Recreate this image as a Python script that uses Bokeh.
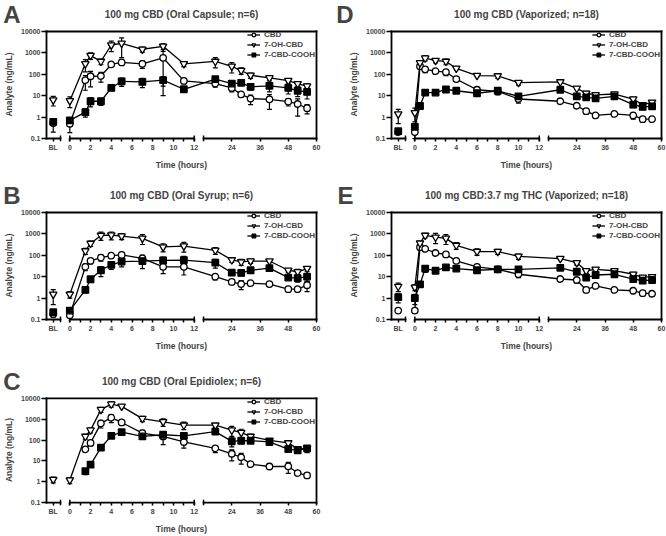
import math
from bokeh.plotting import figure
from bokeh.models import (FixedTicker, Range1d, Whisker, TeeHead,
                          ColumnDataSource, Legend, LegendItem, Label)
from bokeh.layouts import column, row
from bokeh.embed import file_html
from bokeh.resources import INLINE

NAN = float("nan")

# ---------------- data (first value of every series = baseline "BL") ----------------
ORAL_HOURS = [0, 1.5, 2, 3, 4, 5, 7, 9, 11, 17, 24, 28, 32, 40, 48, 52, 56]
VAPE_HOURS = [0, 0.5, 1, 2, 3, 4, 6, 8, 10, 17, 24, 28, 32, 40, 48, 52, 56]
SERIES_NAMES = ["CBD", "7-OH-CBD", "7-CBD-COOH"]
Y_TICKS = [0.1, 1.0, 10.0, 100.0, 1000.0, 10000.0]
Y_TICK_LABELS = ["0.1", "1", "10", "100", "1000", "10000"]
X_MAJOR_HOURS = [0, 2, 4, 6, 8, 10, 12, 24, 36, 48, 60]
X_MINOR_HOURS = [1, 3, 5, 7, 9, 11]

# A: 100 mg CBD (Oral Capsule; n=6)
A_CBD = [0.53, 0.49, 53, 81, 83, 288, 357, 310, 590, 49, 37, 23, 11.5, 7.3, 6.8, 5.3, 4.1, 2.6]
A_CBD_ERR = [0.33, 0.3, 35, 55, 40, 60, 80, 120, 580, 12, 12, 8, 3, 3.5, 4.5, 2, 3, 1.2]
A_OH = [6.3, 5.8, 310, 750, 400, 2340, 2800, 1480, 2040, 310, 400, 235, 150, 90, 68, 51, 36, 28]
A_OH_ERR = [3, 3, 180, 250, 120, 1200, 2200, 400, 600, 80, 200, 120, 50, 25, 15, 12, 10, 8]
A_COOH = [0.6, 0.7, 1.7, 5.5, 5.5, 23, 47, 44, 53, 20, 59, 37, 40, 26, 29, 23, 17, 15]
A_COOH_ERR = [0.2, 0.2, 0.7, 2.5, 2, 4, 20, 20, 25, 3, 15, 10, 8, 8, 14, 11, 8, 8]

# B: 100 mg CBD (Oral Syrup; n=6)
B_CBD = [0.18, 0.16, 29, 55, 78, 96, 104, 72, 29, 29, 10, 5.7, 4.5, 5.0, 4.5, 2.6, 2.6, 4.0]
B_CBD_ERR = [0.05, 0.03, 10, 15, 25, 25, 25, 30, 15, 17, 3, 1, 2, 1, 1, 0.5, 0.6, 2]
B_OH = [1.5, 1.5, 160, 360, 850, 880, 790, 620, 245, 270, 170, 61, 49, 54, 54, 20, 17, 24]
B_OH_ERR = [1.0, 0.5, 50, 100, 350, 350, 250, 300, 100, 130, 60, 15, 15, 12, 6, 4, 5, 6]
B_COOH = [0.22, 0.26, 2.4, 7.6, 20, 36, 51, 54, 58, 60, 45, 15.5, 15, 20, 25, 9.1, 8.5, 10]
B_COOH_ERR = [0.06, 0.1, 0.6, 2, 10, 14, 22, 30, 25, 30, 20, 3, 4, 4, 4, 1.5, 3, 4]

# C: 100 mg CBD (Oral Epidiolex; n=6)
C_CBD = [NAN, NAN, 36, 73, 630, 1190, 700, 215, 150, 81, 40, 22, 15, 7, 5.4, 5.5, 2.6, 2.0]
C_CBD_ERR = [NAN, NAN, 8, 20, 250, 500, 200, 80, 90, 40, 15, 12, 8, 1, 0.8, 3, 0.5, 0.4]
C_OH = [1.28, 1.2, 150, 300, 2900, 5300, 4150, 1070, 750, 520, 520, 300, 230, 150, 97, 73, 38, 40]
C_OH_ERR = [0.4, 0.4, 40, 80, 800, 1500, 600, 300, 300, 200, 100, 150, 100, 40, 20, 20, 10, 15]
C_COOH = [NAN, NAN, 3.2, 6.6, 43, 160, 240, 150, 180, 160, 255, 87, 93, 93, 81, 37, 32, 40]
C_COOH_ERR = [NAN, NAN, 1, 1.5, 8, 20, 30, 40, 50, 50, 50, 40, 25, 20, 15, 8, 8, 12]

# D: 100 mg CBD (Vaporized; n=18)
D_CBD = [0.2, 0.2, 240, 170, 140, 127, 60, 19, 16, 7, 5.5, 3.4, 1.9, 1.2, 1.4, 1.2, 0.8, 0.8]
D_CBD_ERR = [0.05, 0.1, 60, 50, 30, 40, 10, 3, 5, 2.5, 1, 0.5, 0.5, 0.3, 0.2, 0.4, 0.2, 0.1]
D_OH = [1.4, 1.6, 345, 570, 440, 400, 190, 87, 84, 41, 44, 22, 13, 11, 12, 7, 3.8, 4.9]
D_OH_ERR = [0.9, 1.0, 80, 150, 100, 120, 30, 10, 20, 10, 5, 3, 3, 3, 2, 1.5, 1, 1]
D_COOH = [0.22, 0.35, 3.3, 14, 14, 19.5, 17, 13, 17, 9.3, 19, 9.3, 8.4, 7.5, 9.3, 3.8, 3.0, 3.2]
D_COOH_ERR = [0.05, 0.1, 0.5, 3, 2, 3, 2, 2, 3, 2, 3, 2, 2, 1.5, 1.5, 1, 0.7, 0.7]

# E: 100 mg CBD:3.7 mg THC (Vaporized; n=18)
E_CBD = [0.26, 0.26, 240, 200, 128, 110, 55, 29, 22, 13, 7.8, 7, 2.4, 3.7, 2.4, 2.2, 1.7, 1.6]
E_CBD_ERR = [0.05, 0.05, 60, 50, 30, 20, 8, 4, 4, 4, 1, 2, 0.3, 0.5, 0.3, 0.6, 0.3, 0.4]
E_OH = [3.5, 3.2, 370, 850, 700, 620, 290, 150, 150, 90, 70, 45, 19, 22, 19, 13, 9.3, 10]
E_OH_ERR = [1.5, 1, 80, 200, 350, 300, 100, 50, 40, 25, 8, 10, 5, 4, 3, 3, 1.5, 1]
E_COOH = [1.1, 1.0, 4.4, 24, 19, 27, 24, 20, 22, 22, 26, 17, 9, 12, 13, 7.8, 6.5, 7]
E_COOH_ERR = [0.5, 0.5, 0.8, 8, 3, 4, 3, 3, 4, 4, 4, 3, 2, 3, 2, 1.5, 1, 1.5]

# ---------------- styling / broken time axis ----------------
FONT = "Liberation Sans"
X_LEFT = -2.25       # display units (= hours inside the 0-12 h segment)
BL_POS = -1.6
BL_END = -0.9
LATE_START = 12.9
LATE_SCALE = 0.227
AXW = 1.8
DATA_W, DATA_H = 270, 107      # pixel size of the data rectangle
PAD, PAD_T, PADB = 2, 4, 3      # frame padding so that the frame lines are not clipped
HEADER_H = 27
LETTER_Y = HEADER_H - 13.45     # header coordinates, measured from its bottom
TITLE_Y = HEADER_H - 13.5


def disp(t):
    return t if t <= 12 else LATE_START + (t - 12) * LATE_SCALE


X_RIGHT = disp(60)
UPP = (X_RIGHT - X_LEFT) / DATA_W
DPP = 5.0 / DATA_H
Y_LO, Y_HI = 0.1, 10000.0

MARKERS = [
    dict(marker="circle", size=6.5, fill_color="white"),
    dict(marker="inverted_triangle", size=7.5, fill_color="white"),
    dict(marker="square", size=6.5, fill_color="black"),
]


def make_header(letter, title, width, mb_left):
    mb_right = width - mb_left - DATA_W - 2 * PAD
    h = figure(width=width, height=HEADER_H, x_range=Range1d(0, 1), y_range=Range1d(0, HEADER_H),
               output_backend="svg", toolbar_location=None, title_location=None,
               x_axis_location=None, y_axis_location="left",
               min_border_left=mb_left, min_border_right=mb_right,
               min_border_top=0, min_border_bottom=0)
    h.outline_line_color = None
    h.grid.visible = False
    # panel letter, drawn as the single tick label of the header's left axis
    la = h.yaxis[0]
    la.ticker = FixedTicker(ticks=[LETTER_Y])
    la.major_label_overrides = {LETTER_Y: letter}
    la.axis_line_color = None
    la.major_tick_line_color = None
    la.minor_tick_line_color = None
    la.major_tick_in = 0
    la.major_tick_out = 0
    la.major_label_text_font = FONT
    la.major_label_text_font_style = "bold"
    la.major_label_text_font_size = "24px"
    la.major_label_standoff = mb_left - 20
    h.add_layout(Label(x=0.5, y=TITLE_Y, text=title, text_font=FONT,
                       text_font_style="bold", text_font_size="10px",
                       text_align="center", text_baseline="middle"))
    return h


def make_plot(hours, series, width, height, mb_left, mb_bottom):
    p = figure(width=width, height=height, y_axis_type="log",
               x_range=Range1d(X_LEFT - PAD * UPP, X_RIGHT + PAD * UPP),
               y_range=Range1d(Y_LO * 10 ** (-PADB * DPP), Y_HI * 10 ** (PAD_T * DPP)),
               output_backend="svg", toolbar_location=None, title_location=None,
               min_border_left=mb_left, min_border_right=width - mb_left - DATA_W - 2 * PAD,
               min_border_top=0, min_border_bottom=mb_bottom)
    p.outline_line_color = None
    p.xgrid.visible = False
    p.ygrid.visible = False

    ya = p.yaxis[0]
    xa = p.xaxis[0]
    for ax in (ya, xa):
        ax.axis_line_color = None
        ax.major_tick_line_width = 1.5
        ax.minor_tick_line_width = 1.5
        ax.major_label_text_font = FONT
        ax.major_label_text_font_style = "bold"
        ax.major_label_text_font_size = "7px"
        ax.axis_label_text_font = FONT
        ax.axis_label_text_font_style = "bold"
        ax.axis_label_text_font_size = "8.5px"

    ya.ticker = FixedTicker(ticks=Y_TICKS)
    ya.major_label_overrides = dict(zip(Y_TICKS, Y_TICK_LABELS))
    ya.major_tick_in = PAD
    ya.major_tick_out = 3
    ya.major_label_standoff = 1
    ya.axis_label = "Analyte (ng/mL)"
    ya.axis_label_standoff = 4

    x_major = [BL_POS] + [float(disp(h)) for h in X_MAJOR_HOURS]
    x_labels = ["BL"] + [str(h) for h in X_MAJOR_HOURS]
    xa.ticker = FixedTicker(ticks=x_major, minor_ticks=[float(disp(h)) for h in X_MINOR_HOURS])
    xa.major_label_overrides = dict(zip(x_major, x_labels))
    xa.major_tick_in = PADB
    xa.major_tick_out = 0
    xa.minor_tick_in = PADB
    xa.minor_tick_out = 0
    xa.major_label_standoff = 2
    xa.axis_label = "Time (hours)"
    xa.axis_label_standoff = 6

    # frame: left, top and right lines + broken bottom axis line
    fx0 = [X_LEFT, X_LEFT, X_RIGHT, X_LEFT, 0.0, LATE_START]
    fy0 = [Y_LO, Y_HI, Y_LO, Y_LO, Y_LO, Y_LO]
    fx1 = [X_LEFT, X_RIGHT, X_RIGHT, BL_END, 12.0, X_RIGHT]
    fy1 = [Y_HI, Y_HI, Y_HI, Y_LO, Y_LO, Y_LO]
    p.segment(x0=fx0, y0=fy0, x1=fx1, y1=fy1, line_color="black", line_width=AXW,
              line_cap="square")
    caps = [BL_END, 0.0, 12.0, LATE_START]
    cap_lo = Y_LO * 10 ** (-3 * DPP)
    cap_hi = Y_LO * 10 ** (3 * DPP)
    p.segment(x0=caps, y0=[cap_lo] * 4, x1=caps, y1=[cap_hi] * 4,
              line_color="black", line_width=1.5)

    xs_all = [BL_POS] + [float(disp(h)) for h in hours]
    items = []
    for name, (vals, errs), mk in zip(SERIES_NAMES, series, MARKERS):
        line = p.line(x=xs_all[1:], y=vals[1:], line_color="black", line_width=1.3)
        up = [v + e if not math.isnan(v) else NAN for v, e in zip(vals, errs)]
        lo = [max(v - e, Y_LO) if not math.isnan(v) else NAN for v, e in zip(vals, errs)]
        src = ColumnDataSource(dict(x=xs_all, y=vals, upper=up, lower=lo))
        w = Whisker(base="x", upper="upper", lower="lower", source=src, dimension="height",
                    line_color="black", line_width=1.2, level="underlay",
                    upper_head=TeeHead(size=5, line_width=1.2, line_color="black"),
                    lower_head=TeeHead(size=5, line_width=1.2, line_color="black"))
        p.add_layout(w)
        sc = p.scatter(x="x", y="y", source=src, marker=mk["marker"], size=mk["size"],
                       fill_color=mk["fill_color"], line_color="black", line_width=1.3)
        items.append(LegendItem(label=name, renderers=[line, sc]))

    leg = Legend(items=items, location="top_right")
    leg.label_text_font = FONT
    leg.label_text_font_style = "bold"
    leg.label_text_font_size = "8px"
    leg.label_height = 9
    leg.glyph_height = 9
    leg.glyph_width = 13
    leg.label_standoff = 4
    leg.spacing = 1
    leg.padding = 3
    leg.margin = 3
    leg.border_line_color = None
    leg.background_fill_alpha = 0
    p.add_layout(leg)
    return p


def make_panel(letter, title, hours, series, width, height, mb_left, mb_bottom):
    hdr = make_header(letter, title, width, mb_left)
    plot = make_plot(hours, series, width, height - HEADER_H, mb_left, mb_bottom)
    return column(hdr, plot)


LEFT_W, RIGHT_W = 333, 333
panelA = make_panel("A", "100 mg CBD (Oral Capsule; n=6)", ORAL_HOURS,
                    [(A_CBD, A_CBD_ERR), (A_OH, A_OH_ERR), (A_COOH, A_COOH_ERR)],
                    LEFT_W, 181, 44, 40)
panelB = make_panel("B", "100 mg CBD (Oral Syrup; n=6)", ORAL_HOURS,
                    [(B_CBD, B_CBD_ERR), (B_OH, B_OH_ERR), (B_COOH, B_COOH_ERR)],
                    LEFT_W, 186, 44, 45)
panelC = make_panel("C", "100 mg CBD (Oral Epidiolex; n=6)", ORAL_HOURS,
                    [(C_CBD, C_CBD_ERR), (C_OH, C_OH_ERR), (C_COOH, C_COOH_ERR)],
                    LEFT_W, 169, 44, 28)
panelD = make_panel("D", "100 mg CBD (Vaporized; n=18)", VAPE_HOURS,
                    [(D_CBD, D_CBD_ERR), (D_OH, D_OH_ERR), (D_COOH, D_COOH_ERR)],
                    RIGHT_W, 181, 56, 40)
panelE = make_panel("E", "100 mg CBD:3.7 mg THC (Vaporized; n=18)", VAPE_HOURS,
                    [(E_CBD, E_CBD_ERR), (E_OH, E_OH_ERR), (E_COOH, E_COOH_ERR)],
                    RIGHT_W, 186, 56, 45)

layout = column(row(panelA, panelD), row(panelB, panelE), row(panelC))
open("out.html", "w").write(file_html(layout, INLINE))
